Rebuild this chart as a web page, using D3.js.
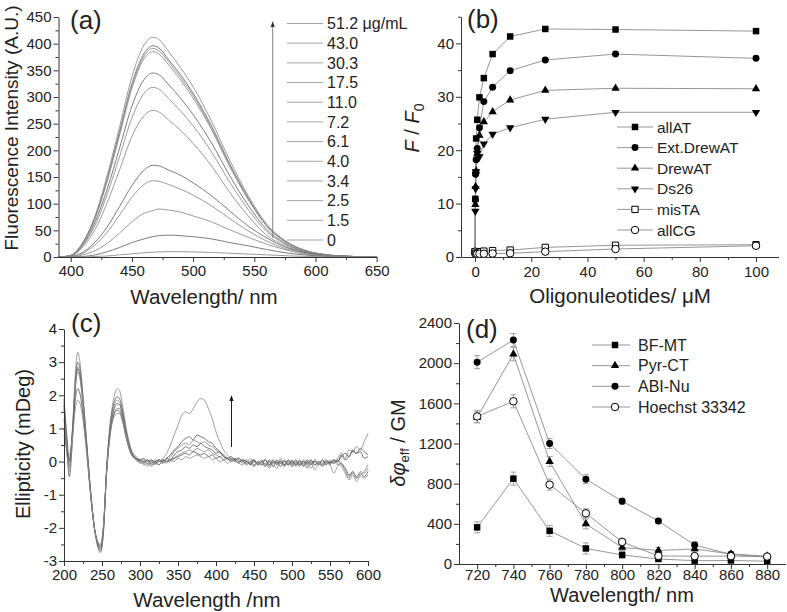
<!DOCTYPE html>
<html><head><meta charset="utf-8">
<script src="https://cdn.jsdelivr.net/npm/d3@7"></script>
<style>
body{margin:0;background:#fff}
svg{display:block}
text{font-family:"Liberation Sans",Arial,Helvetica,sans-serif;fill:#222}
</style>
</head><body>
<svg id="chart" width="787" height="612"></svg>
<script>
// ---------------- (a) fluorescence spectra ----------------
const flWave = [390,400,410,420,430,440,450,460,467,472,480,490,500,515,530,545,560,575,590,610,630,650];
const fl51_2 = [0,3,28,78,155,245,338,398,412,408,385,354,319,255,181,115,62,31,14,4,1,0];
const fl43_0 = [0,3,27,75,148,236,325,382,396,392,370,341,307,246,174,111,59,30,13,4,1,0];
const fl30_3 = [0,3,27,74,147,233,321,377,391,387,366,336,303,242,172,109,59,29,13,4,1,0];
const fl17_5 = [0,3,26,73,144,229,316,372,385,381,360,331,298,239,169,108,58,29,13,4,1,0];
const fl11_0 = [0,2,23,66,129,205,283,333,345,342,323,297,267,214,152,97,52,26,11,3,1,0];
const fl7_2  = [0,2,22,60,119,189,261,307,318,315,297,273,246,197,140,89,48,24,10,3,1,0];
const fl6_1  = [0,2,19,52,103,164,226,265,275,272,257,237,213,171,121,77,41,21,9,3,1,0];
const fl4_0  = [0,1,9,28,57,95,134,163,172,171,163,153,139,115,86,58,36,19,9,3,1,0];
const fl3_4  = [0,1,7,23,47,79,112,136,143,142,136,127,116,96,72,49,30,16,7,2,1,0];
const fl2_5  = [0,0,4,12,26,45,66,82,87,90,88,84,77,66,51,37,24,14,6,2,0,0];
const fl1_5  = [0,0,1,4,10,18,27,34,38,40,41,40,38,34,27,21,14,8,4,1,0,0];
const fl0    = [0,0,0,1,2,4,6,8,9,9.5,10,10,9.5,8.5,7,5.5,4,2.5,1.2,0.5,0.1,0];
const flLabels = ["51.2 \u03bcg/mL","43.0","30.3","17.5","11.0","7.2","6.1","4.0","3.4","2.5","1.5","0"];
const flXTicks = [400,450,500,550,600,650];
const flYTicks = [0,50,100,150,200,250,300,350,400,450];

// ---------------- (b) titration ----------------
const oligoConc = [0,0.1,0.2,0.39,0.78,1.56,3.13,6.25,12.5,25,50,100];
const allAT     = [1,10.9,15.8,22.2,25.7,29.9,33.5,38.0,41.3,42.7,42.6,42.3];
const extDrewAT = [1,10.7,15.5,18.2,20.3,24.2,29.1,31.8,34.9,36.9,38.0,37.2];
const drewAT    = [1,9.8,13.2,16.1,19.3,22.8,25.3,27.2,29.4,31.2,31.6,31.5];
const ds26      = [1,8.6,12.8,16.0,19.4,18.8,21.2,23.0,24.2,25.8,27.1,27.1];
const misTA     = [1,1.0,1.0,1.0,1.0,1.0,1.1,1.2,1.3,1.8,2.2,2.3];
const allCG     = [1,0.7,0.6,0.6,0.6,0.6,0.6,0.65,0.7,1.0,1.5,2.1];
const oligoNames = ["allAT","Ext.DrewAT","DrewAT","Ds26","misTA","allCG"];
const oligoXTicks = [0,20,40,60,80,100];
const oligoYTicks = [0,10,20,30,40];

// ---------------- (c) CD spectra ----------------
const cdWave = [200,204,207,211,215,218,221,225,230,235,240,244,248,252,256,260,265,270,273,277,282,288,295,300,
 305,310,315,320,325,330,335,340,345,350,355,360,365,370,375,380,385,390,395,400,405,410,415,420,425,430,435,440,445,450,
 455,460,465,470,475,480,485,490,495,500,505,510,515,520,525,530,535,540,545,550,555,560,565,570,575,580,585,590,595,600];
const cd1 = [1.8,0.5,-0.2,0.9,2.7,3.3,3.0,2.0,0.55,-0.9,-2.0,-2.55,-2.75,-2.1,-0.2,1.0,1.85,2.2,2.15,1.7,1.0,0.4,0.15,0.05,
 0.05,-0.05,0.0,0.05,0.0,0.1,0.25,0.5,0.8,1.1,1.4,1.5,1.45,1.6,1.8,1.9,1.85,1.6,1.3,0.9,0.6,0.35,0.2,0.1,0.05,0.1,0.0,-0.05,0.1,-0.1,
 0.0,-0.1,0.05,-0.15,0.0,-0.1,0.1,-0.15,0.05,-0.1,0.0,-0.15,0.05,-0.05,-0.2,0.0,-0.1,0.05,-0.05,0.05,-0.05,0.1,0.25,0.1,0.35,0.3,0.45,0.35,0.6,0.85];
const cd2 = [1.7,0.3,-0.45,0.6,2.4,3.0,2.8,1.9,0.5,-0.9,-2.0,-2.5,-2.7,-2.1,-0.3,0.9,1.7,1.95,1.9,1.55,0.9,0.35,0.1,0.0,
 -0.05,0.05,-0.1,0.0,0.05,-0.05,0.1,0.2,0.35,0.45,0.6,0.7,0.75,0.65,0.8,0.75,0.7,0.6,0.55,0.4,0.3,0.15,0.1,0.05,0.1,0.0,0.05,-0.1,0.0,0.05,
 -0.1,0.0,-0.15,0.05,-0.05,0.0,-0.15,0.05,-0.1,0.0,-0.1,0.05,-0.1,0.0,-0.1,0.05,-0.05,-0.1,0.0,-0.05,0.05,0.0,0.2,0.05,0.15,0.3,0.25,0.4,0.3,0.2];
const cd3 = [1.6,0.5,-0.1,0.9,2.4,2.85,2.65,1.8,0.45,-0.9,-2.0,-2.45,-2.65,-2.0,-0.3,0.85,1.6,1.85,1.8,1.45,0.85,0.3,0.05,-0.05,
 0.0,-0.1,0.05,-0.05,0.0,0.05,0.0,0.15,0.3,0.4,0.5,0.55,0.5,0.65,0.6,0.55,0.6,0.5,0.45,0.35,0.25,0.2,0.05,0.1,0.0,0.05,-0.05,0.0,-0.1,0.05,
 -0.05,-0.1,0.05,-0.1,0.0,-0.05,0.05,-0.1,0.0,-0.15,0.0,-0.05,0.0,-0.1,0.05,-0.1,0.0,-0.15,0.0,-0.05,0.0,-0.1,-0.05,-0.3,-0.5,-0.35,-0.45,-0.3,-0.35,-0.2];
const cd4 = [1.9,0.7,0.0,0.9,2.3,2.8,2.6,1.75,0.4,-0.95,-2.0,-2.45,-2.6,-1.95,-0.3,0.8,1.5,1.75,1.72,1.4,0.8,0.3,0.1,0.05,
 0.1,0.0,0.05,-0.05,0.05,0.0,0.1,0.05,0.2,0.3,0.35,0.45,0.4,0.5,0.45,0.55,0.45,0.4,0.35,0.25,0.3,0.15,0.1,0.15,0.05,0.1,0.0,0.05,-0.1,0.0,
 -0.05,0.05,-0.1,0.0,-0.15,0.05,-0.05,0.0,-0.1,0.05,-0.1,0.0,-0.15,0.05,-0.05,0.0,-0.1,0.05,-0.1,0.0,-0.05,0.05,-0.1,-0.2,-0.4,-0.3,-0.5,-0.35,-0.45,-0.3];
const cd5 = [1.3,0.2,-0.3,0.7,2.2,2.7,2.5,1.7,0.4,-0.95,-2.0,-2.45,-2.6,-2.0,-0.35,0.75,1.4,1.6,1.6,1.3,0.75,0.25,0.05,0.0,
 -0.05,-0.15,0.0,-0.1,0.05,-0.05,0.05,0.0,0.1,0.2,0.25,0.3,0.35,0.3,0.4,0.35,0.3,0.35,0.25,0.2,0.15,0.2,0.1,0.05,0.1,0.0,0.05,-0.05,0.0,-0.15,
 0.0,-0.05,-0.15,0.0,-0.1,-0.2,0.0,-0.1,-0.05,-0.15,-0.05,-0.1,0.0,-0.15,-0.05,-0.25,-0.05,-0.1,0.0,-0.1,0.0,-0.05,-0.15,-0.35,-0.55,-0.4,-0.6,-0.45,-0.5,-0.4];
const cd6 = [1.0,0.3,0.05,0.8,1.9,2.2,2.05,1.4,0.3,-1.0,-2.0,-2.4,-2.55,-1.95,-0.35,0.7,1.35,1.55,1.52,1.25,0.7,0.25,0.1,0.05,
 0.0,0.05,-0.05,0.0,-0.1,0.05,0.0,0.05,0.1,0.15,0.2,0.25,0.2,0.3,0.25,0.2,0.25,0.15,0.2,0.1,0.15,0.05,0.1,0.0,0.05,-0.05,0.05,0.0,-0.05,0.05,
 -0.1,0.0,0.05,-0.1,0.05,-0.05,0.0,-0.1,0.05,-0.05,0.05,-0.1,0.0,-0.05,0.05,-0.1,0.0,-0.05,0.05,-0.05,0.05,0.0,0.15,0.25,0.15,0.35,0.25,0.3,0.1,0.15];
const cd7 = [0.8,0.4,0.2,0.7,1.6,1.85,1.75,1.25,0.2,-1.0,-2.0,-2.4,-2.5,-1.9,-0.35,0.65,1.3,1.45,1.45,1.2,0.7,0.25,0.05,0.0,
 -0.1,-0.05,-0.15,-0.05,-0.1,0.0,-0.05,0.05,0.0,0.1,0.05,0.15,0.1,0.15,0.2,0.15,0.1,0.15,0.05,0.1,0.0,0.05,-0.05,0.05,0.0,-0.05,-0.1,0.0,-0.05,-0.15,
 0.0,-0.1,-0.05,-0.2,0.0,-0.1,-0.05,-0.15,0.0,-0.05,-0.15,0.0,-0.05,-0.2,0.0,-0.1,-0.05,-0.15,-0.05,-0.1,-0.35,-0.15,-0.05,-0.2,-0.45,-0.3,-0.5,-0.4,-0.3,-0.1];
const cdXTicks = [200,250,300,350,400,450,500,550,600];
const cdYTicks = [-3,-2,-1,0,1,2,3,4];

// ---------------- (d) two-photon action cross section ----------------
const tpWave  = [720,740,760,780,800,820,840,860,880];
const bfMT    = [365,850,330,155,90,50,33,35,28];
const pyrCT   = [1460,2090,1020,400,165,135,150,100,78];
const abiNu   = [2010,2230,1200,845,625,428,189,96,68];
const hoechst = [1470,1620,790,505,220,80,78,78,74];
const bfMTErr    = [55,65,55,55,30,25,20,20,20];
const pyrCTErr   = [55,65,50,50,30,30,30,25,20];
const abiNuErr   = [65,65,50,45,30,25,30,25,20];
const hoechstErr = [60,65,55,45,35,25,25,20,20];
const tpNames = ["BF-MT","Pyr-CT","ABI-Nu","Hoechst 33342"];
const tpXTicks = [720,740,760,780,800,820,840,860,880];
const tpYTicks = [0,400,800,1200,1600,2000,2400];

// ======================================================
const svg = d3.select("#chart");
const AX = "#333", LINE = "#8a8a8a", TICKFS = 15;

function midpoints(t){const r=[];for(let i=0;i<t.length-1;i++)r.push((t[i]+t[i+1])/2);return r;}

function axes(x, y, xt, yt, xMinor, yMinor, xPad){
  const y0 = y.range()[0], x0 = x.range()[0];
  const gx = svg.append("g").attr("transform",`translate(0,${y0})`)
    .call(d3.axisBottom(x).tickValues(xt).tickSize(5).tickSizeOuter(0).tickPadding(xPad).tickFormat(d=>String(d)));
  svg.append("g").attr("transform",`translate(0,${y0})`)
    .call(d3.axisBottom(x).tickValues(xMinor).tickSize(3).tickFormat(""))
    .call(g=>g.select(".domain").remove());
  const gy = svg.append("g").attr("transform",`translate(${x0},0)`)
    .call(d3.axisLeft(y).tickValues(yt).tickSize(5).tickSizeOuter(0).tickPadding(2).tickFormat(d=>String(d)));
  svg.append("g").attr("transform",`translate(${x0},0)`)
    .call(d3.axisLeft(y).tickValues(yMinor).tickSize(3).tickFormat(""))
    .call(g=>g.select(".domain").remove());
  svg.selectAll(".tick line, .domain").attr("stroke",AX);
  [gx,gy].forEach(g=>g.selectAll("text").attr("font-size",TICKFS).attr("font-family",'"Liberation Sans",Arial,sans-serif').attr("fill","#222"));
}

function label(txt,x,y,fs){svg.append("text").attr("x",x).attr("y",y).attr("font-size",fs).text(txt);}

// ---------------- panel (a)
{
  const x = d3.scaleLinear().domain([390,650]).range([58.5,376.7]);
  const y = d3.scaleLinear().domain([0,450]).range([257,17]);
  const series = [fl51_2,fl43_0,fl30_3,fl17_5,fl11_0,fl7_2,fl6_1,fl4_0,fl3_4,fl2_5,fl1_5,fl0];
  const line = d3.line().x((d,i)=>x(flWave[i])).y(d=>y(d)).curve(d3.curveMonotoneX);
  series.forEach((s,k)=>svg.append("path").attr("d",line(s)).attr("fill","none")
    .attr("stroke",k%3===1?"#6e6e6e":"#8e8e8e").attr("stroke-width",0.9));
  axes(x,y,flXTicks,flYTicks,midpoints(flXTicks),midpoints(flYTicks),3);
  const ly = d3.scaleLinear().domain([0,flLabels.length-1]).range([23.5,240]);
  flLabels.forEach((t,i)=>{
    svg.append("line").attr("x1",287).attr("x2",323).attr("y1",ly(i)).attr("y2",ly(i)).attr("stroke","#9a9a9a").attr("stroke-width",0.9);
    svg.append("text").attr("x",327).attr("y",ly(i)).attr("dy","0.36em").attr("font-size",16).text(t);
  });
  svg.append("line").attr("x1",272.7).attr("x2",272.7).attr("y1",238).attr("y2",26).attr("stroke","#777").attr("stroke-width",0.9);
  svg.append("path").attr("d","M272.7,21 L270.7,27 L274.7,27 Z").attr("fill","#333");
  label("(a)",70,29,26);
  svg.append("text").attr("transform","translate(17.5,128) rotate(-90)").attr("text-anchor","middle").attr("font-size",19).text("Fluorescence Intensity (A.U.)");
  svg.append("text").attr("x",204).attr("y",304).attr("text-anchor","middle").attr("font-size",20.5).text("Wavelength/ nm");
}

const sym = {
  sq: d3.symbol().type(d3.symbolSquare).size(42)(),
  ci: d3.symbol().type(d3.symbolCircle).size(38)(),
  tr: d3.symbol().type(d3.symbolTriangle).size(30)(),
  osq: d3.symbol().type(d3.symbolSquare).size(40)(),
  oci: d3.symbol().type(d3.symbolCircle).size(44)()
};
function marker(kind,px,py){
  const p = svg.append("path").attr("transform",`translate(${px},${py})${kind==="itr"?" rotate(180)":""}`);
  if(kind==="itr") p.attr("d",sym.tr).attr("fill","#000");
  else if(kind==="osq") p.attr("d",sym.osq).attr("fill","#fff").attr("stroke","#000").attr("stroke-width",1);
  else if(kind==="oci") p.attr("d",sym.oci).attr("fill","#fff").attr("stroke","#000").attr("stroke-width",1);
  else p.attr("d",sym[kind]).attr("fill","#000");
}

// ---------------- panel (b)
{
  const x = d3.scaleLinear().domain([-5,108]).range([461,778.5]);
  const y = d3.scaleLinear().domain([0,45]).range([257,16.7]);
  const series = [allAT,extDrewAT,drewAT,ds26,misTA,allCG];
  const kinds = ["sq","ci","tr","itr","osq","oci"];
  const line = d3.line().x((d,i)=>x(oligoConc[i])).y(d=>y(d));
  series.forEach(s=>svg.append("path").attr("d",line(s)).attr("fill","none").attr("stroke",LINE).attr("stroke-width",0.9));
  series.forEach((s,k)=>s.forEach((v,i)=>{ if(i>0||k>3) marker(kinds[k],x(oligoConc[i]),y(v)); }));
  axes(x,y,oligoXTicks,oligoYTicks,[10,30,50,70,90],[5,15,25,35,45],4.5);
  const ly = d3.scaleLinear().domain([0,5]).range([127,230]);
  oligoNames.forEach((t,i)=>{
    svg.append("line").attr("x1",617).attr("x2",653).attr("y1",ly(i)).attr("y2",ly(i)).attr("stroke",LINE).attr("stroke-width",0.9);
    marker(kinds[i],635,ly(i));
    svg.append("text").attr("x",657).attr("y",ly(i)).attr("dy","0.36em").attr("font-size",15.5).text(t);
  });
  label("(b)",467,28,26);
  const t = svg.append("text").attr("transform","translate(419,128) rotate(-90)").attr("text-anchor","middle").attr("font-size",20);
  t.append("tspan").attr("font-style","italic").text("F");
  t.append("tspan").text(" / ");
  t.append("tspan").attr("font-style","italic").text("F");
  t.append("tspan").attr("font-size",14).attr("dy",5).text("0");
  svg.append("text").attr("x",620).attr("y",303).attr("text-anchor","middle").attr("font-size",20.5).text("Oligonuleotides/ \u03bcM");
}

// ---------------- panel (c)
{
  const x = d3.scaleLinear().domain([200,600]).range([64,368]);
  const y = d3.scaleLinear().domain([-3,4]).range([561,329]);
  const series = [cd1,cd2,cd3,cd4,cd5,cd6,cd7];
  const line = d3.line().x((d,i)=>x(cdWave[i])).y(d=>y(d)).curve(d3.curveMonotoneX);
  series.forEach((s,k)=>svg.append("path").attr("d",line(s)).attr("fill","none")
    .attr("stroke",k%2?"#5a5a5a":"#8c8c8c").attr("stroke-width",0.85));
  axes(x,y,cdXTicks,cdYTicks,midpoints(cdXTicks),midpoints(cdYTicks),3);
  svg.append("line").attr("x1",231.5).attr("x2",231.5).attr("y1",447).attr("y2",400).attr("stroke","#222").attr("stroke-width",1);
  svg.append("path").attr("d","M231.5,395 L229.5,401 L233.5,401 Z").attr("fill","#111");
  label("(c)",71,332,26);
  svg.append("text").attr("transform","translate(30,444) rotate(-90)").attr("text-anchor","middle").attr("font-size",20).text("Ellipticity (mDeg)");
  svg.append("text").attr("x",207).attr("y",607).attr("text-anchor","middle").attr("font-size",20.5).text("Wavelength /nm");
}

// ---------------- panel (d)
{
  const x = d3.scaleLinear().domain([710,890]).range([459,785.3]);
  const y = d3.scaleLinear().domain([0,2400]).range([564,323]);
  const series = [bfMT,pyrCT,abiNu,hoechst];
  const errs = [bfMTErr,pyrCTErr,abiNuErr,hoechstErr];
  const kinds = ["sq","tr","ci","oci"];
  const line = d3.line().x((d,i)=>x(tpWave[i])).y(d=>y(d));
  series.forEach(s=>svg.append("path").attr("d",line(s)).attr("fill","none").attr("stroke",LINE).attr("stroke-width",0.9));
  series.forEach((s,k)=>s.forEach((v,i)=>{
    const px=x(tpWave[i]), e=errs[k][i];
    svg.append("path").attr("d",`M${px-3},${y(v+e)}H${px+3}M${px},${y(v+e)}V${y(v-e)}M${px-3},${y(v-e)}H${px+3}`)
      .attr("stroke","#999").attr("stroke-width",0.9).attr("fill","none");
  }));
  series.forEach((s,k)=>s.forEach((v,i)=>marker(kinds[k],x(tpWave[i]),y(v))));
  axes(x,y,tpXTicks,tpYTicks,[730,750,770,790,810,830,850,870],midpoints(tpYTicks),0.5);
  const ly = d3.scaleLinear().domain([0,3]).range([345,407]);
  tpNames.forEach((t,i)=>{
    svg.append("line").attr("x1",592).attr("x2",630).attr("y1",ly(i)).attr("y2",ly(i)).attr("stroke",LINE).attr("stroke-width",0.9);
    marker(kinds[i],615,ly(i));
    svg.append("text").attr("x",638).attr("y",ly(i)).attr("dy","0.36em").attr("font-size",16).text(t);
  });
  label("(d)",466,338,26);
  const t = svg.append("text").attr("transform","translate(405,443) rotate(-90)").attr("text-anchor","middle").attr("font-size",20);
  t.append("tspan").attr("font-style","italic").text("\u03b4\u03c6");
  t.append("tspan").attr("font-size",13).attr("dy",4).text("eff");
  t.append("tspan").attr("dy",-4).text(" / GM");
  svg.append("text").attr("x",622).attr("y",602).attr("text-anchor","middle").attr("font-size",20).text("Wavelength/ nm");
}
</script>
</body></html>
